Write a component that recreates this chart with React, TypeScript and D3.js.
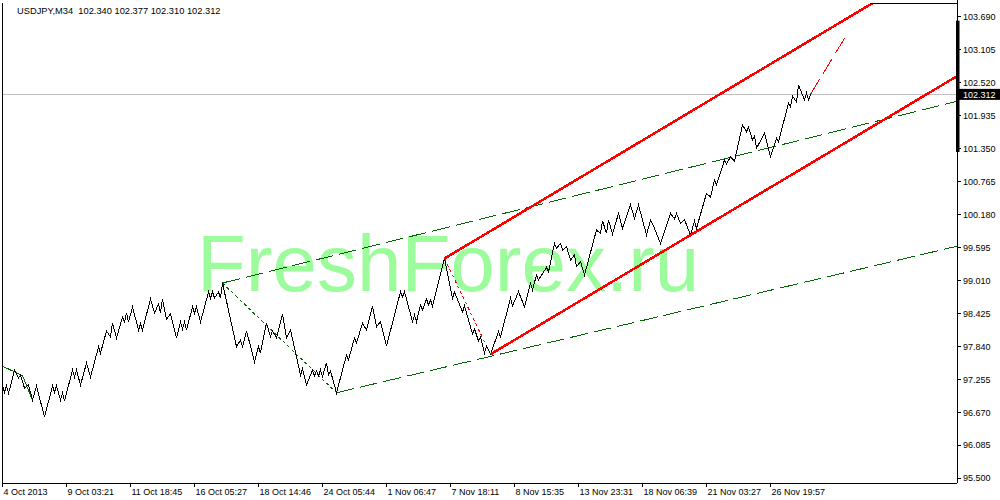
import React from 'react';
import * as d3 from 'd3';

const TITLE = 'USDJPY,M34  102.340 102.377 102.310 102.312';
const WATERMARK = 'FreshForex.ru';

const priceTicks = [103.69, 103.105, 102.52, 101.935, 101.35, 100.765, 100.18, 99.595, 99.01, 98.425, 97.84, 97.255, 96.67, 96.085, 95.5];
const timeTickBars = [0, 32, 64, 96, 128, 160, 192, 224, 256, 288, 320, 352, 384];
const timeTickLabels = ['4 Oct 2013', '9 Oct 03:21', '11 Oct 18:45', '16 Oct 05:27', '18 Oct 14:46', '24 Oct 05:44', '1 Nov 06:47', '7 Nov 18:11', '8 Nov 15:35', '13 Nov 23:31', '18 Nov 06:39', '21 Nov 03:27', '26 Nov 19:57'];

// turning points of the close line (bar index, close)
const pivotBars = [0, 1, 2, 3, 4, 6, 8, 9, 11, 13, 15, 17, 21, 25, 26, 27, 29, 30, 31, 35, 36, 37, 39, 42, 44, 48, 49, 52, 54, 55, 57, 60, 61, 62, 63, 65, 68, 69, 70, 74, 76, 78, 79, 80, 82, 84, 87, 89, 90, 91, 92, 95, 96, 97, 99, 103, 104, 105, 106, 108, 109, 110, 117, 119, 120, 122, 126, 128, 129, 132, 134, 135, 137, 140, 142, 144, 149, 150, 152, 155, 156, 157, 158, 159, 160, 162, 163, 164, 167, 172, 173, 176, 177, 180, 182, 185, 187, 189, 192, 199, 200, 201, 205, 206, 207, 209, 210, 212, 213, 214, 215, 221, 225, 226, 230, 231, 235, 236, 238, 239, 241, 242, 244, 248, 249, 254, 255, 258, 261, 264, 265, 267, 268, 272, 273, 276, 277, 279, 280, 282, 284, 286, 287, 289, 291, 297, 299, 300, 302, 303, 305, 308, 310, 314, 316, 318, 322, 324, 326, 329, 334, 336, 337, 339, 341, 344, 346, 347, 352, 354, 356, 357, 361, 362, 364, 366, 370, 372, 373, 375, 376, 377, 381, 384, 387, 388, 393, 394, 395, 397, 398, 401, 402, 403, 404];
const pivotCloses = [97.137, 97.031, 97.137, 97.013, 97.137, 97.421, 97.279, 97.332, 97.102, 97.155, 96.889, 97.137, 96.587, 97.137, 97.031, 97.137, 96.889, 97.013, 96.871, 97.421, 97.297, 97.421, 97.155, 97.545, 97.297, 97.829, 97.723, 98.113, 98.007, 98.255, 97.989, 98.361, 98.273, 98.432, 98.273, 98.539, 98.131, 98.237, 98.131, 98.681, 98.432, 98.592, 98.432, 98.681, 98.326, 98.415, 97.989, 98.273, 98.149, 98.273, 98.131, 98.539, 98.432, 98.539, 98.273, 98.805, 98.699, 98.805, 98.699, 98.805, 98.699, 98.965, 97.835, 97.953, 97.835, 98.118, 97.568, 97.835, 97.723, 98.255, 98.012, 98.118, 97.989, 98.415, 97.989, 98.131, 97.332, 97.439, 97.155, 97.421, 97.315, 97.403, 97.315, 97.421, 97.302, 97.551, 97.332, 97.403, 97.018, 97.687, 97.599, 97.989, 97.9, 98.255, 98.131, 98.557, 98.189, 98.278, 97.847, 98.81, 98.722, 98.81, 98.278, 98.397, 98.278, 98.574, 98.486, 98.681, 98.574, 98.663, 98.557, 99.4, 98.699, 98.805, 98.45, 98.557, 98.06, 98.149, 97.936, 98.007, 97.723, 97.847, 97.7, 98.101, 98.012, 98.693, 98.557, 98.81, 98.544, 98.959, 98.841, 99.107, 99.018, 99.243, 99.16, 99.669, 99.58, 99.669, 99.55, 99.609, 99.373, 99.462, 99.254, 99.343, 99.107, 99.905, 99.846, 100.07, 99.846, 100.083, 99.834, 100.201, 99.935, 100.349, 100.113, 100.349, 99.816, 100.083, 99.935, 99.669, 100.201, 100.1, 100.201, 100.024, 100.091, 99.816, 100.065, 99.935, 100.556, 100.491, 100.792, 100.704, 101.147, 101.076, 101.206, 101.129, 101.768, 101.649, 101.733, 101.502, 101.573, 101.355, 101.621, 101.206, 101.532, 101.466, 102.158, 102.088, 102.283, 102.176, 102.478, 102.212, 102.336, 102.212, 102.312];

const lastClose = 102.312;
const scaleMarkRange = [101.29, 103.62];

// drawn objects: [bar, price] endpoints
const zigzagLeftBars = [0, 10, 15];
const zigzagLeftPrices = [97.49, 97.32, 96.889];
const greenUpper = [[110, 98.965], [477.5, 102.19]];
const greenLower = [[167, 97.018], [477.5, 99.62]];
const greenDotted = [[110, 98.965], [167, 97.018]];
const redUpper = [[221, 99.4], [435, 103.93]];
const redLower = [[244, 97.7], [477.5, 102.64]];
const redDotted = [[221, 99.4], [244, 97.7]];
const redProjection = [[404, 102.312], [422, 103.365]];

const W = 1000;
const H = 500;
const PL = 2.5;
const PR = 957;
const PT = 3;
const PB = 483;

export default function App() {
  const x = d3.scaleLinear().domain([0, 477.25]).range([PL, PR]);
  const y = d3.scaleLinear().domain([95.5, 103.69]).range([478.3, 16.7]);
  const line = d3.line<[number, number]>().x((d) => x(d[0])).y((d) => y(d[1]));
  const pricePts: [number, number][] = pivotBars.map((b, i) => [b, pivotCloses[i]]);
  const zzPts: [number, number][] = zigzagLeftBars.map((b, i) => [b, zigzagLeftPrices[i]]);
  const fmt = d3.format('.3f');
  const font = "'Liberation Sans', Arial, sans-serif";
  const seg = (pts: number[][]) => line(pts as [number, number][]) || '';

  return (
    <svg width={W} height={H} style={{ position: 'absolute', left: 0, top: 0, display: 'block', background: '#fff' }}>
      <defs>
        <clipPath id="plot">
          <rect x={PL} y={PT} width={PR - PL} height={PB - PT} />
        </clipPath>
      </defs>
      <rect x={0} y={0} width={W} height={H} fill="#fff" />
      <text x={197} y={291} fontFamily={font} fontSize={80} fill="#9cfc9c">{WATERMARK}</text>
      <g clipPath="url(#plot)" fill="none">
        <line x1={PL} x2={PR} y1={y(lastClose)} y2={y(lastClose)} stroke="#c0c0c0" strokeWidth={1} shapeRendering="crispEdges" />
        <path d={seg(greenUpper)} stroke="#006400" strokeWidth={1} strokeDasharray="18 6" shapeRendering="crispEdges" />
        <path d={seg(greenLower)} stroke="#006400" strokeWidth={1} strokeDasharray="18 6" shapeRendering="crispEdges" />
        <path d={seg(greenDotted)} stroke="#006400" strokeWidth={1} strokeDasharray="3 3" shapeRendering="crispEdges" />
        <path d={line(zzPts) || ''} stroke="#006400" strokeWidth={1} shapeRendering="crispEdges" />
        <path d={seg(redDotted)} stroke="#ff0000" strokeWidth={1} strokeDasharray="3 3" shapeRendering="crispEdges" />
        <path d={seg(redProjection)} stroke="#ff0000" strokeWidth={1} strokeDasharray="18 6" shapeRendering="crispEdges" />
        <path d={line(pricePts) || ''} stroke="#000" strokeWidth={1} shapeRendering="crispEdges" />
        <path d={seg(redUpper)} stroke="#ff0000" strokeWidth={2.5} shapeRendering="crispEdges" />
        <path d={seg(redLower)} stroke="#ff0000" strokeWidth={2.5} shapeRendering="crispEdges" />
      </g>
      {/* frame */}
      <line x1={PL} x2={PL} y1={PT} y2={PB} stroke="#000" shapeRendering="crispEdges" />
      <line x1={PL} x2={PR} y1={PB} y2={PB} stroke="#000" shapeRendering="crispEdges" />
      <line x1={PR} x2={PR} y1={0} y2={PB} stroke="#000" shapeRendering="crispEdges" />
      <line x1={870} x2={PR} y1={PT} y2={PT} stroke="#000" shapeRendering="crispEdges" />
      {/* price axis */}
      <rect x={956} y={y(scaleMarkRange[1])} width={3.5} height={y(scaleMarkRange[0]) - y(scaleMarkRange[1])} fill="#000" />
      {priceTicks.map((p) => (
        <g key={p}>
          <line x1={PR} x2={PR + 4} y1={y(p)} y2={y(p)} stroke="#000" shapeRendering="crispEdges" />
          <text x={963} y={y(p)} dy="0.35em" fontFamily={font} fontSize={9} fill="#000">{fmt(p)}</text>
        </g>
      ))}
      <rect x={959} y={y(lastClose) - 5.5} width={41} height={11} fill="#000" />
      <text x={963} y={y(lastClose)} dy="0.35em" fontFamily={font} fontSize={9} fill="#fff">{fmt(lastClose)}</text>
      {/* time axis */}
      {timeTickBars.map((b, i) => (
        <g key={b}>
          <line x1={x(b)} x2={x(b)} y1={PB} y2={PB + 4} stroke="#000" shapeRendering="crispEdges" />
          <text x={x(b) + 1} y={495} fontFamily={font} fontSize={9} fill="#000">{timeTickLabels[i]}</text>
        </g>
      ))}
      <text x={17} y={13.5} fontFamily={font} fontSize={9.3} fill="#000" style={{ whiteSpace: 'pre' }}>{TITLE}</text>
    </svg>
  );
}
